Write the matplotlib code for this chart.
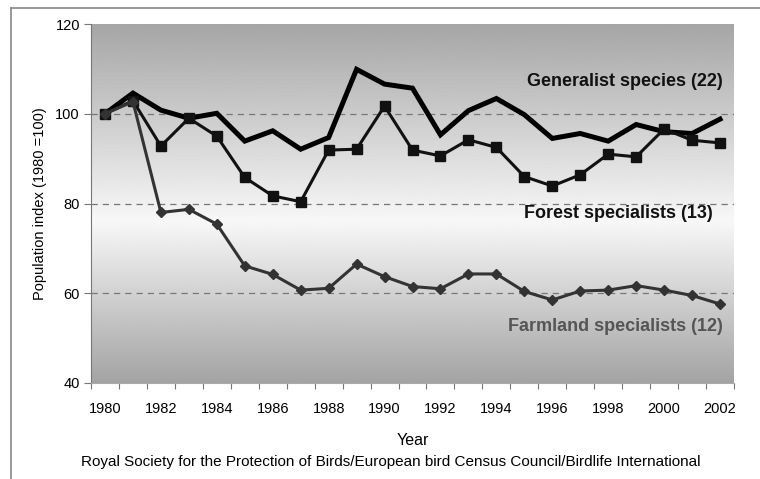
import numpy as np
import matplotlib
matplotlib.use("Agg")
import matplotlib.pyplot as plt
from matplotlib.colors import LinearSegmentedColormap

plt.rcParams['font.family'] = ['Liberation Sans', 'DejaVu Sans']

years = list(range(1980, 2003))
generalist = [100, 104.6, 100.8, 99.0, 100.1, 93.9, 96.2, 92.1, 94.7, 109.9, 106.6, 105.7,
              95.3, 100.7, 103.4, 99.8, 94.5, 95.6, 93.9, 97.6, 96.0, 95.6, 98.8]
forest = [100, 102.9, 92.8, 99.0, 95.0, 85.8, 81.7, 80.4, 91.9, 92.1, 101.7, 91.9,
          90.6, 94.2, 92.5, 86.0, 83.9, 86.4, 91.0, 90.4, 96.6, 94.1, 93.5]
farmland = [100, 102.7, 78.0, 78.7, 75.4, 66.1, 64.2, 60.7, 61.1, 66.5, 63.7, 61.5,
            61.0, 64.3, 64.3, 60.4, 58.5, 60.5, 60.7, 61.7, 60.7, 59.5, 57.6]
year_labels = [str(y) for y in years[::2]]

fig = plt.figure(figsize=(7.6, 4.79), dpi=100)
ax = fig.add_axes([91/760, 1 - 383/479, 643/760, 359/479])

# background gradient: gray at top and bottom, near white in the middle
t = np.linspace(0, 1, 300)
shade = np.interp(t, [0, 0.45, 1], [0.64, 0.97, 0.65])
cmap = LinearSegmentedColormap.from_list('bg', [(0, 0, 0), (1, 1, 1)])
ax.imshow(shade.reshape(-1, 1), cmap=cmap, vmin=0, vmax=1, aspect='auto',
          extent=(-0.5, 22.5, 40, 120), origin='lower', zorder=0)

for v in [60, 80, 100]:
    ax.axhline(v, color='#777777', lw=0.9, ls=(0, (5, 4)), zorder=1)

x = np.arange(len(years))
ax.plot(x, generalist, color='black', lw=3.6, solid_joinstyle='miter', zorder=3)
ax.plot(x, forest, color='#111111', lw=2.2, marker='s', ms=7, zorder=4)
ax.plot(x, farmland, color='#333333', lw=2.2, marker='D', ms=5.5, zorder=5)

ax.text(22.1, 107.1, 'Generalist species (22)', ha='right', va='center',
        fontsize=13, fontweight='bold', color='#111111', zorder=6)
ax.text(21.75, 77.7, 'Forest specialists (13)', ha='right', va='center',
        fontsize=13, fontweight='bold', color='#111111', zorder=6)
ax.text(22.1, 52.5, 'Farmland specialists (12)', ha='right', va='center',
        fontsize=13, fontweight='bold', color='#555555', zorder=6)

ax.set_xlim(-0.5, 22.5)
ax.set_ylim(40, 120)
ax.set_yticks([40, 60, 80, 100, 120])
ax.set_xticks(np.arange(-0.5, 23, 1))
ax.set_xticklabels([])
ax.set_xticks(x[::2], minor=True)
ax.set_xticklabels(year_labels, minor=True)
ax.tick_params(axis='x', which='minor', length=0, pad=14, labelsize=10.5)
ax.tick_params(axis='x', which='major', length=4, color='#777777')
ax.tick_params(axis='y', length=5, color='#777777', labelsize=10.5, pad=3)

for s in ['top', 'right']:
    ax.spines[s].set_visible(False)
ax.spines['left'].set_color('#777777')
ax.spines['bottom'].set_color('#aaaaaa')

ax.set_ylabel('Population index (1980 =100)', fontsize=10.5, labelpad=6)
ax.set_xlabel('Year', fontsize=11.5, labelpad=12)

fig.text(391/760, 1 - 462/479, 'Royal Society for the Protection of Birds/European bird Census Council/Birdlife International',
         ha='center', va='center', fontsize=11)

# outer frame lines (left and top)
fig.add_artist(plt.Line2D([11/760, 11/760], [0, 1 - 8/479], color='#888888', lw=1.2))
fig.add_artist(plt.Line2D([11/760, 1], [1 - 8/479, 1 - 8/479], color='#888888', lw=1.2))

fig.savefig('out.png', dpi=100)
